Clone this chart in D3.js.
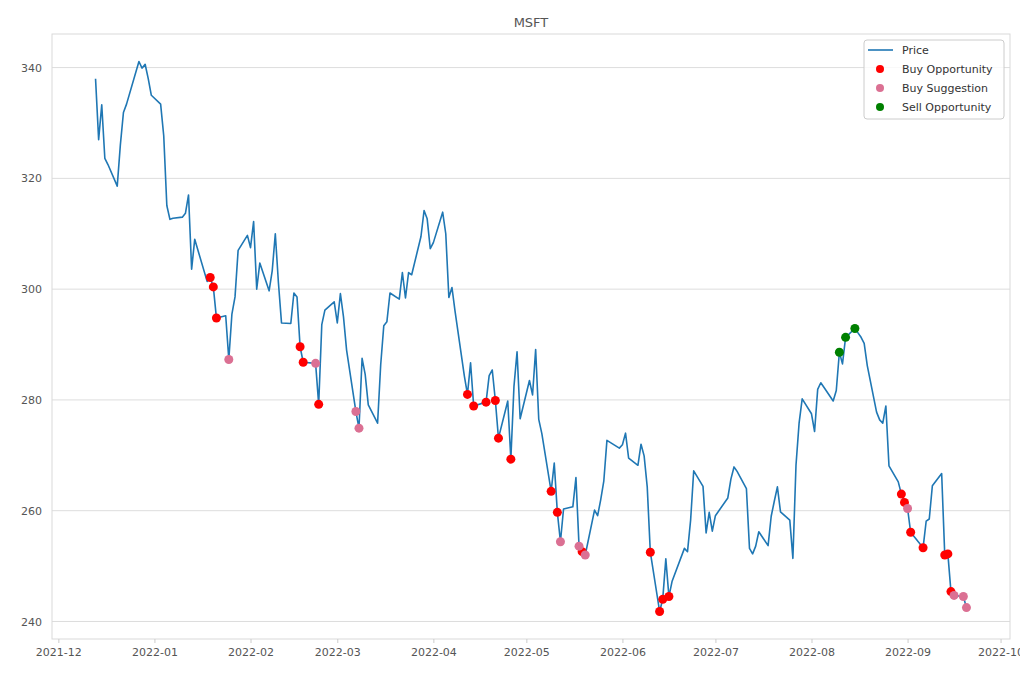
<!DOCTYPE html>
<html>
<head>
<meta charset="utf-8">
<script src="https://cdn.jsdelivr.net/npm/d3@7"></script>
<style>
  body { margin: 0; background: #fff; }
  text { font-family: "DejaVu Sans", sans-serif; }
</style>
</head>
<body>
<div id="chart"></div>
<script>
const ticker = "MSFT";

const dates = [
  "2021-12-13","2021-12-14","2021-12-15","2021-12-16","2021-12-17","2021-12-20","2021-12-21","2021-12-22","2021-12-23","2021-12-27",
  "2021-12-28","2021-12-29","2021-12-30","2021-12-31","2022-01-03","2022-01-04","2022-01-05","2022-01-06","2022-01-07","2022-01-10",
  "2022-01-11","2022-01-12","2022-01-13","2022-01-14","2022-01-18","2022-01-19","2022-01-20","2022-01-21","2022-01-24","2022-01-25",
  "2022-01-26","2022-01-27","2022-01-28","2022-01-31","2022-02-01","2022-02-02","2022-02-03","2022-02-04","2022-02-07","2022-02-08",
  "2022-02-09","2022-02-10","2022-02-11","2022-02-14","2022-02-15","2022-02-16","2022-02-17","2022-02-18","2022-02-22","2022-02-23",
  "2022-02-24","2022-02-25","2022-02-28","2022-03-01","2022-03-02","2022-03-03","2022-03-04","2022-03-07","2022-03-08","2022-03-09",
  "2022-03-10","2022-03-11","2022-03-14","2022-03-15","2022-03-16","2022-03-17","2022-03-18","2022-03-21","2022-03-22","2022-03-23",
  "2022-03-24","2022-03-25","2022-03-28","2022-03-29","2022-03-30","2022-03-31","2022-04-01","2022-04-04","2022-04-05","2022-04-06",
  "2022-04-07","2022-04-08","2022-04-11","2022-04-12","2022-04-13","2022-04-14","2022-04-18","2022-04-19","2022-04-20","2022-04-21",
  "2022-04-22","2022-04-25","2022-04-26","2022-04-27","2022-04-28","2022-04-29","2022-05-02","2022-05-03","2022-05-04","2022-05-05",
  "2022-05-06","2022-05-09","2022-05-10","2022-05-11","2022-05-12","2022-05-13","2022-05-16","2022-05-17","2022-05-18","2022-05-19",
  "2022-05-20","2022-05-23","2022-05-24","2022-05-25","2022-05-26","2022-05-27","2022-05-31","2022-06-01","2022-06-02","2022-06-03",
  "2022-06-06","2022-06-07","2022-06-08","2022-06-09","2022-06-10","2022-06-13","2022-06-14","2022-06-15","2022-06-16","2022-06-17",
  "2022-06-21","2022-06-22","2022-06-23","2022-06-24","2022-06-27","2022-06-28","2022-06-29","2022-06-30","2022-07-01","2022-07-05",
  "2022-07-06","2022-07-07","2022-07-08","2022-07-11","2022-07-12","2022-07-13","2022-07-14","2022-07-15","2022-07-18","2022-07-19",
  "2022-07-20","2022-07-21","2022-07-22","2022-07-25","2022-07-26","2022-07-27","2022-07-28","2022-07-29","2022-08-01","2022-08-02",
  "2022-08-03","2022-08-04","2022-08-05","2022-08-08","2022-08-09","2022-08-10","2022-08-11","2022-08-12","2022-08-15","2022-08-16",
  "2022-08-17","2022-08-18","2022-08-19","2022-08-22","2022-08-23","2022-08-24","2022-08-25","2022-08-26","2022-08-29","2022-08-30",
  "2022-08-31","2022-09-01","2022-09-02","2022-09-06","2022-09-07","2022-09-08","2022-09-09","2022-09-12","2022-09-13","2022-09-14",
  "2022-09-15","2022-09-16","2022-09-19","2022-09-20"
];

const prices = [
  338.0,327.0,333.3,323.6,322.5,318.6,326.0,331.9,333.4,341.1,
  339.9,340.6,338.0,335.0,333.4,327.7,315.1,312.6,312.8,313.0,
  313.7,317.0,303.6,309.0,301.4,302.1,300.4,294.8,295.2,287.3,
  295.5,298.6,307.0,309.7,307.5,312.2,300.0,304.7,299.7,303.3,
  310.0,301.2,293.9,293.8,299.3,298.6,289.6,286.8,286.6,279.2,
  293.6,296.2,297.7,293.9,299.2,295.0,289.0,277.9,274.9,287.5,
  284.6,279.1,275.8,286.3,293.4,294.1,299.3,298.2,303.0,298.4,
  303.0,302.6,309.5,314.2,312.7,307.3,308.4,313.9,310.0,298.5,
  300.3,296.0,284.3,281.0,286.7,278.9,279.6,284.4,285.4,279.9,
  273.1,279.8,269.3,282.4,288.7,276.6,283.5,280.9,289.1,276.5,
  273.9,263.5,268.6,259.7,254.4,260.3,260.7,266.0,253.6,252.6,
  252.0,260.1,259.1,262.0,265.4,272.7,271.3,271.9,274.0,269.5,
  268.2,272.0,269.9,264.3,252.5,241.8,244.0,251.3,244.5,247.2,
  253.2,252.6,258.3,267.2,264.4,256.0,259.7,256.3,259.1,262.3,
  265.7,267.9,267.1,264.0,253.2,252.2,253.6,256.2,253.7,259.0,
  261.7,264.3,259.8,258.3,251.4,268.2,275.8,280.2,277.5,274.3,
  281.9,283.1,282.3,279.8,281.7,288.6,286.5,291.3,292.9,292.1,
  291.3,290.2,286.2,277.8,276.4,275.8,278.9,268.1,265.2,263.0,
  261.5,260.4,256.1,253.3,258.1,258.5,264.5,266.7,252.0,252.2,
  245.4,244.7,244.5,242.5
];

const buyOpportunity = [
  "2022-01-19","2022-01-20","2022-01-21","2022-02-17","2022-02-18","2022-02-23",
  "2022-04-12","2022-04-14","2022-04-18","2022-04-21","2022-04-22","2022-04-26",
  "2022-05-09","2022-05-11","2022-05-19","2022-06-10","2022-06-13","2022-06-14",
  "2022-06-16","2022-08-30","2022-08-31","2022-09-02","2022-09-06","2022-09-13",
  "2022-09-14","2022-09-15"
];
const buySuggestion = [
  "2022-01-25","2022-02-22","2022-03-07","2022-03-08","2022-05-12","2022-05-18",
  "2022-05-20","2022-09-01","2022-09-16","2022-09-19","2022-09-20"
];
const sellOpportunity = ["2022-08-10","2022-08-12","2022-08-15"];

const yTicks = [240, 260, 280, 300, 320, 340];

const width = 1020, height = 680;
const plotLeft = 52, plotRight = 1010, plotTop = 34, plotBottom = 639;

const parse = d3.timeParse("%Y-%m-%d");
const data = dates.map((d, i) => ({date: parse(d), price: prices[i]}));
const byDate = new Map(dates.map((d, i) => [d, data[i]]));

const svg = d3.select("#chart")
  .append("svg")
  .attr("width", width)
  .attr("height", height);

// matplotlib style 5% margins
const xExt = d3.extent(data, d => d.date);
const xPad = (xExt[1] - xExt[0]) * 0.05;
const x = d3.scaleTime()
  .domain([new Date(+xExt[0] - xPad), new Date(+xExt[1] + xPad)])
  .range([plotLeft, plotRight]);

const yExt = d3.extent(prices);
const yPad = (yExt[1] - yExt[0]) * 0.05;
const y = d3.scaleLinear()
  .domain([yExt[0] - yPad, yExt[1] + yPad])
  .range([plotBottom, plotTop]);

// grid
svg.append("g")
  .selectAll("line")
  .data(yTicks)
  .enter()
  .append("line")
  .attr("x1", plotLeft)
  .attr("x2", plotRight)
  .attr("y1", d => y(d))
  .attr("y2", d => y(d))
  .attr("stroke", "#dddddd")
  .attr("stroke-width", 1);

// frame
svg.append("rect")
  .attr("x", plotLeft)
  .attr("y", plotTop)
  .attr("width", plotRight - plotLeft)
  .attr("height", plotBottom - plotTop)
  .attr("fill", "none")
  .attr("stroke", "#d9d9d9")
  .attr("stroke-width", 1);

const xAxis = d3.axisBottom(x)
  .ticks(d3.timeMonth.every(1))
  .tickFormat(d3.timeFormat("%Y-%m"))
  .tickSize(4)
  .tickPadding(5);

const gx = svg.append("g")
  .attr("transform", `translate(0 ${plotBottom})`)
  .call(xAxis);
gx.select(".domain").remove();
gx.selectAll("line").attr("stroke", "#cccccc");
gx.selectAll("text").attr("fill", "#555").style("font-size", "11px");

const yAxis = d3.axisLeft(y)
  .tickValues(yTicks)
  .tickSize(0)
  .tickPadding(10);

const gy = svg.append("g")
  .attr("transform", `translate(${plotLeft} 0)`)
  .call(yAxis);
gy.select(".domain").remove();
gy.selectAll("text").attr("fill", "#555").style("font-size", "11px");

// price line
const line = d3.line()
  .x(d => x(d.date))
  .y(d => y(d.price));

svg.append("path")
  .datum(data)
  .attr("d", line)
  .attr("fill", "none")
  .attr("stroke", "#1f77b4")
  .attr("stroke-width", 1.6)
  .attr("stroke-linejoin", "round");

function dots(list, color) {
  svg.append("g")
    .selectAll("circle")
    .data(list.map(d => byDate.get(d)))
    .enter()
    .append("circle")
    .attr("cx", d => x(d.date))
    .attr("cy", d => y(d.price))
    .attr("r", 4.5)
    .attr("fill", color);
}
dots(buyOpportunity, "red");
dots(buySuggestion, "palevioletred");
dots(sellOpportunity, "green");

// title
svg.append("text")
  .attr("x", (plotLeft + plotRight) / 2)
  .attr("y", 27)
  .attr("text-anchor", "middle")
  .attr("fill", "#555")
  .style("font-size", "13px")
  .text(ticker);

// legend
const legend = svg.append("g").attr("transform", "translate(864 40)");
legend.append("rect")
  .attr("width", 140)
  .attr("height", 79)
  .attr("rx", 3)
  .attr("fill", "white")
  .attr("fill-opacity", 0.8)
  .attr("stroke", "#cccccc");

const items = [
  {label: "Price", type: "line", color: "#1f77b4"},
  {label: "Buy Opportunity", type: "dot", color: "red"},
  {label: "Buy Suggestion", type: "dot", color: "palevioletred"},
  {label: "Sell Opportunity", type: "dot", color: "green"}
];

items.forEach((it, i) => {
  const cy = 10 + i * 19;
  if (it.type === "line") {
    legend.append("line")
      .attr("x1", 4).attr("x2", 29)
      .attr("y1", cy).attr("y2", cy)
      .attr("stroke", it.color)
      .attr("stroke-width", 1.6);
  } else {
    legend.append("circle")
      .attr("cx", 16).attr("cy", cy)
      .attr("r", 4)
      .attr("fill", it.color);
  }
  legend.append("text")
    .attr("x", 38)
    .attr("y", cy + 4)
    .attr("fill", "#333")
    .style("font-size", "11px")
    .text(it.label);
});
</script>
</body>
</html>
